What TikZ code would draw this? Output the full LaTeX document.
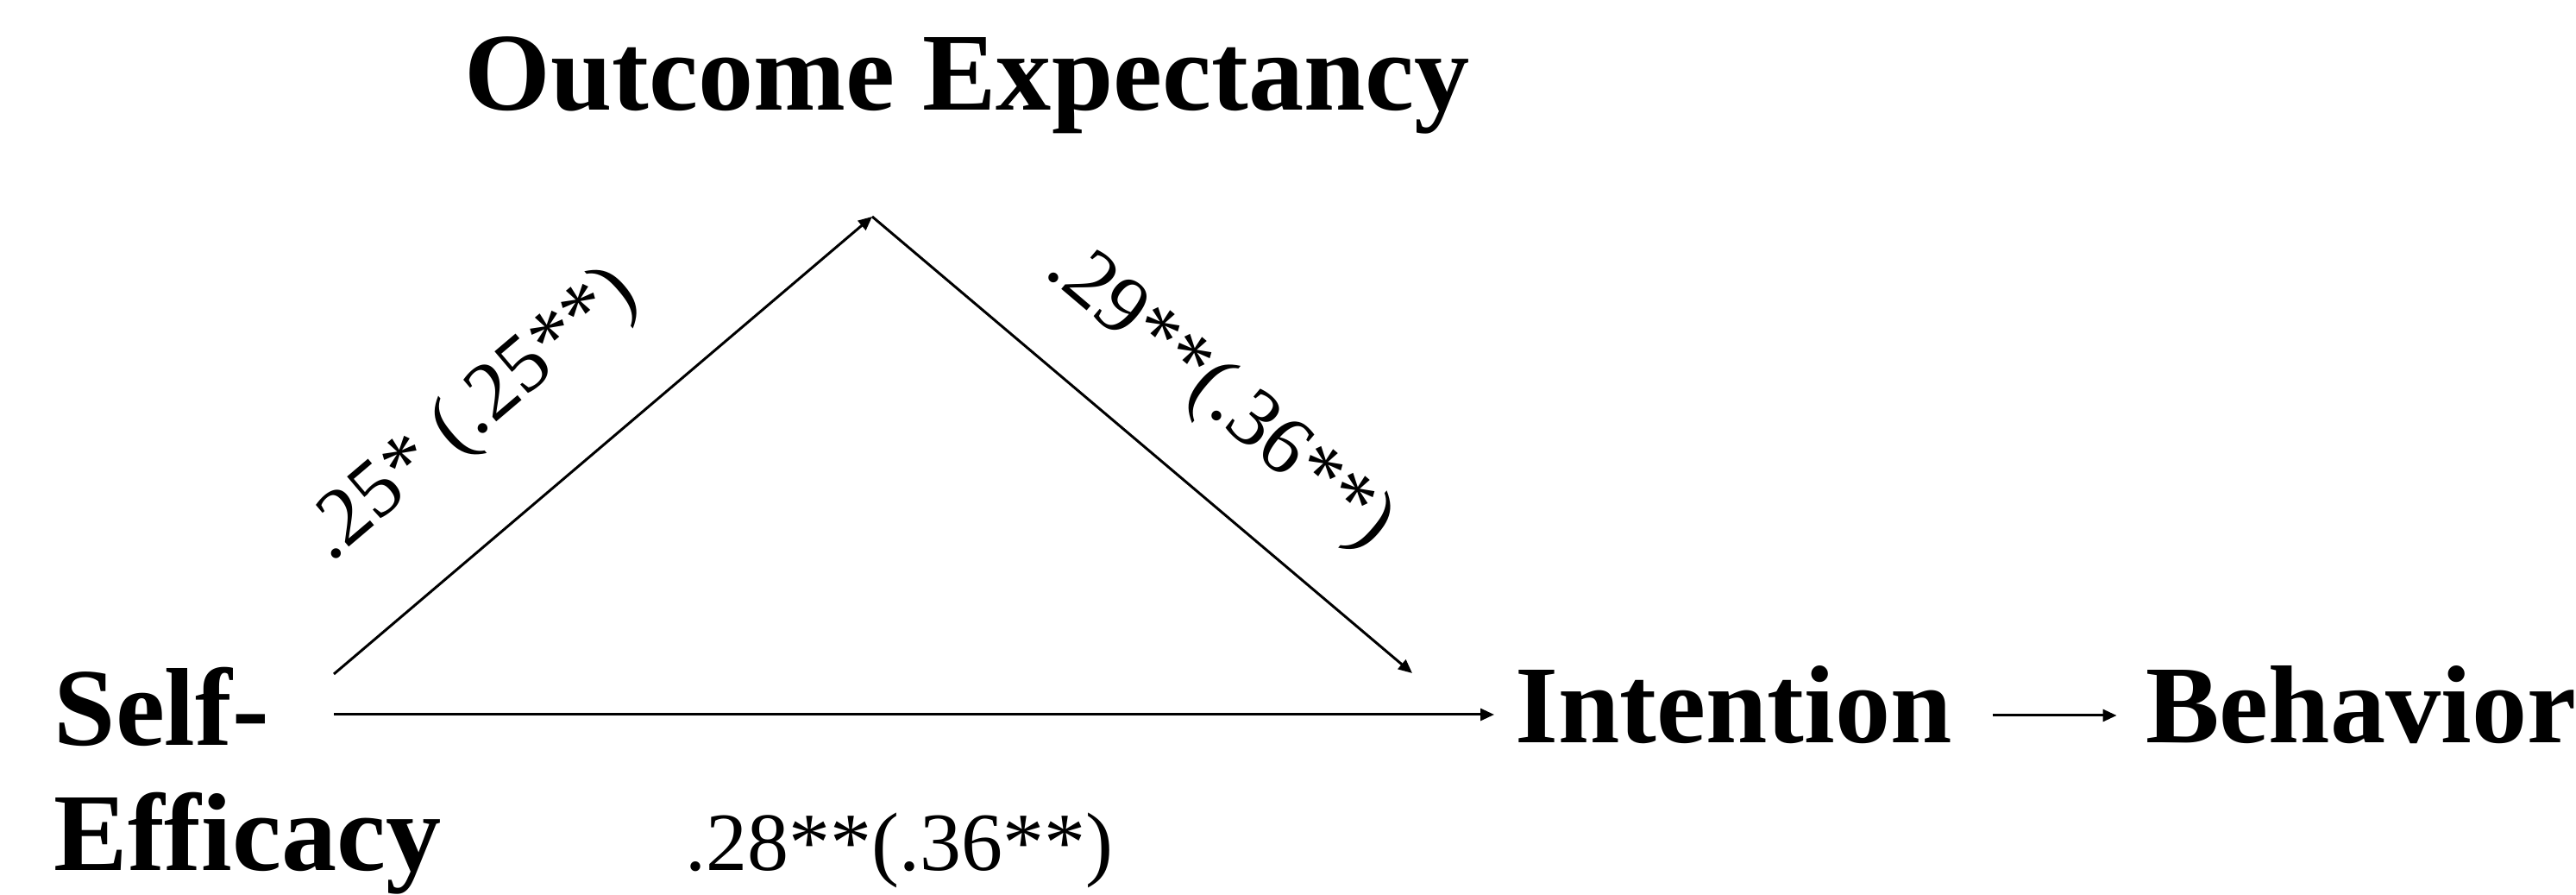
\documentclass[tikz,border=0pt]{standalone}
\usepackage{fontspec}
\setmainfont{Liberation Serif}
\usetikzlibrary{arrows.meta,positioning,calc}

\begin{document}
\begin{tikzpicture}[
    var/.style={font=\fontsize{36.5}{41.5}\selectfont\bfseries, inner sep=0pt, align=left},
    coef/.style={font=\fontsize{27.3}{32}\selectfont, inner sep=0pt},
    arrow/.style={-{Triangle[length=1.6mm, width=1.4mm]}, line width=0.85pt},
  ]
    \useasboundingbox (0,0) rectangle (29.86,10.37);

    \node[var, anchor=base west] (self) at (0.62,0.28) {Self-\\Efficacy};
    \node[var, anchor=base] (outcome) at (11.21,9.09) {Outcome Expectancy};
    \node[var, anchor=base west] (int) at (17.56,1.76) {Intention};
    \node[var, base right=2.23cm of int] (beh) {Behavior};

    % ends of the path lines
    \coordinate (up) at (3.87,2.56);
    \coordinate (out) at (3.87,2.09);
    \coordinate (top) at (10.11,7.86);
    \coordinate (in) at (16.37,2.57);

    \draw[arrow] (up) -- (top);
    \draw[arrow] (top) -- (in);
    \draw[arrow] (out) -- ($(int.west |- out)+(-0.24,0)$);
    \draw[arrow] ($(int.base east)+(0.46,0.32)$) -- ($(beh.base west)+(-0.33,0.32)$);

    \node[coef, rotate=40.3] (a) at (5.48,5.55) {.25* (.25**)};
    \node[coef, rotate=-40.3] (b) at (14.13,5.77) {.29**(.36**)};
    \node[coef, anchor=base west] (c) at (7.94,0.28) {.28**(.36**)};
\end{tikzpicture}
\end{document}
